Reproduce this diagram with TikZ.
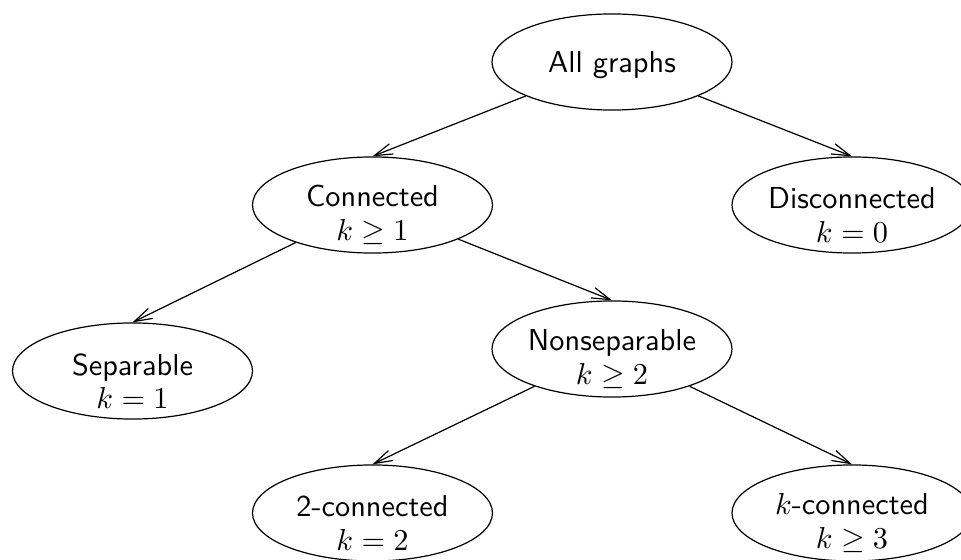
\documentclass[tikz,border=0pt]{standalone}
\usetikzlibrary{shapes.geometric,arrows.meta}
\begin{document}
\begin{tikzpicture}[x=0.33pt,y=-0.33pt,
  gnode/.style={draw,ellipse,minimum width=79.2pt,minimum height=31.7pt,inner sep=0pt},
  gtext/.style={label={[font=\sffamily\fontsize{10}{11}\selectfont,align=center,yshift=-3.3pt,inner sep=0pt]center:#1}},
  gtextone/.style={label={[font=\sffamily\fontsize{10}{11}\selectfont,align=center,yshift=-1pt,inner sep=0pt]center:#1}},
  edge/.style={-{Straight Barb[length=6pt,width=3.6pt]}}]
\useasboundingbox (0,0) rectangle (961,560);
\node[gnode,gtextone={All graphs}] (all) at (612,62) {};
\node[gnode,gtext={Connected\\$k\geq1$}] (conn) at (372.5,205) {};
\node[gnode,gtext={Disconnected\\$k=0$}] (disc) at (852,205) {};
\node[gnode,gtext={Separable\\$k=1$}] (sep) at (132.5,371) {};
\node[gnode,gtext={Nonseparable\\$k\geq2$}] (nonsep) at (612,349) {};
\node[gnode,gtext={2-connected\\$k=2$}] (two) at (372.5,513) {};
\node[gnode,gtext={$k$-connected\\$k\geq3$}] (kconn) at (852,513) {};
\draw[edge] (all) -- (conn.north);
\draw[edge] (all) -- (disc.north);
\draw[edge] (conn) -- (sep.north);
\draw[edge] (conn) -- (nonsep.north);
\draw[edge] (nonsep) -- (two.north);
\draw[edge] (nonsep) -- (kconn.north);
\end{tikzpicture}
\end{document}
